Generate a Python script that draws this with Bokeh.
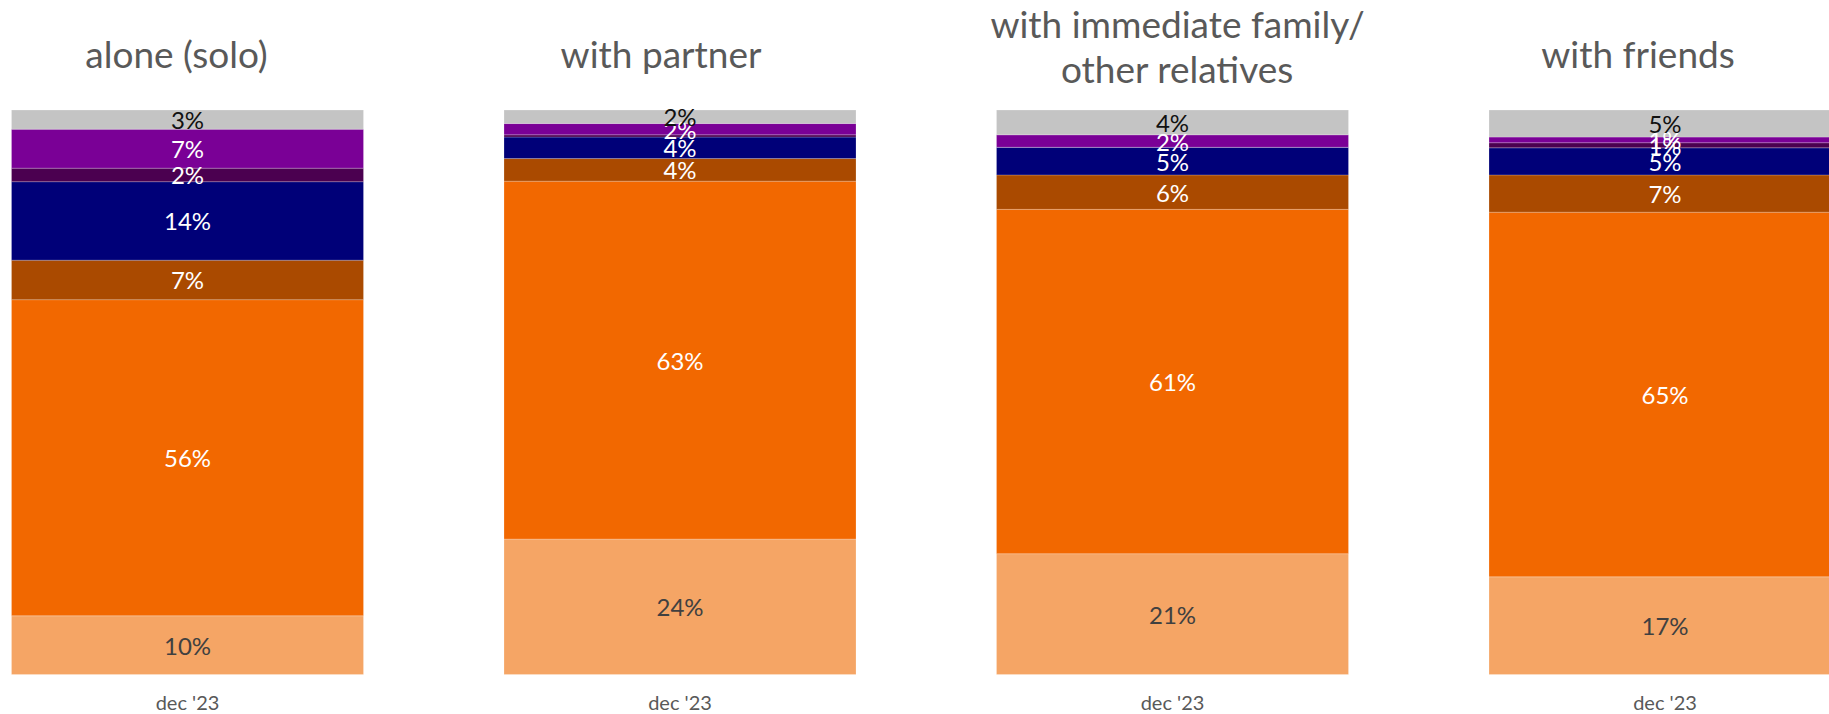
from bokeh.plotting import figure
from bokeh.models import ColumnDataSource, Range1d
from bokeh.core.properties import value
from bokeh.embed import file_html
from bokeh.resources import INLINE

# ---- data ----
panels = ["alone (solo)", "with partner", "with immediate family/\nother relatives", "with friends"]
period = ["dec '23", "dec '23", "dec '23", "dec '23"]
series = ["s1", "s2", "s3", "s4", "s5", "s6", "s7"]  # bottom -> top
s1 = [10.4, 24.0, 21.4, 17.3]
s2 = [56.0, 63.4, 61.0, 64.6]
s3 = [7.0, 4.0, 6.1, 6.6]
s4 = [13.9, 3.8, 4.9, 4.8]
s5 = [2.4, 0.4, 0.0, 0.9]
s6 = [6.9, 2.0, 2.2, 1.0]
s7 = [3.4, 2.4, 4.4, 4.8]

# ---- styles ----
colors = ["#F5A565", "#F26800", "#AA4A00", "#000078", "#4B0050", "#7A0096", "#C4C4C4"]
label_colors = ["#404040", "white", "white", "white", "white", "white", "#111111"]
FONT = "Lato"
W, H = 1829, 714
PITCH = 492.5          # px between bar centres
BAR_W_PX = 352
FIRST_CENTER = 187     # px from left of figure
TOP_PX, BOT_PX = 109.5, 674.0
PX_PER_UNIT = (BOT_PX - TOP_PX) / 100.0

x0 = -FIRST_CENTER / PITCH
x1 = x0 + W / PITCH
y_top = 100 + TOP_PX / PX_PER_UNIT
y_bot = -(H - BOT_PX) / PX_PER_UNIT


def py(px):
    return (BOT_PX - px) / PX_PER_UNIT


p = figure(width=W, height=H, output_backend="svg", toolbar_location=None,
           x_range=Range1d(x0, x1), y_range=Range1d(y_bot, y_top),
           min_border=0, min_border_left=0, min_border_right=0,
           min_border_top=0, min_border_bottom=0)
p.axis.visible = False
p.grid.visible = False
p.outline_line_color = None
p.background_fill_color = "white"
p.border_fill_color = "white"

xs = list(range(len(panels)))
data = dict(x=xs, s1=s1, s2=s2, s3=s3, s4=s4, s5=s5, s6=s6, s7=s7)
src = ColumnDataSource(data)
p.vbar_stack(series, x="x", width=BAR_W_PX / PITCH, color=colors, source=src,
             line_color="white", line_width=0.6, line_alpha=0.35)

# segment labels
all_vals = [s1, s2, s3, s4, s5, s6, s7]
lx, ly, lt, lc = [], [], [], []
for i in range(len(panels)):
    cum = 0.0
    for k, vals in enumerate(all_vals):
        v = vals[i]
        if round(v) >= 1:
            lx.append(i)
            ly.append(cum + v / 2)
            lt.append(f"{round(v)}%")
            lc.append(label_colors[k])
        cum += v
p.text(x=lx, y=ly, text=lt, text_color=lc, text_font=value(FONT),
       text_font_size="24px", text_align="center", text_baseline="middle")

# titles
title_dx = [-11, -19, 5, -27]
tx, ty, tt, toff = [], [], [], []
for i, t in enumerate(panels):
    lines = t.split("\n")
    if len(lines) == 1:
        ys = [53.0]
    else:
        ys = [22.5, 68.0]
    for ln, yy in zip(lines, ys):
        tx.append(i)
        ty.append(py(yy))
        tt.append(ln)
        toff.append(title_dx[i])
p.text(x=tx, y=ty, text=tt, x_offset=toff, text_color="#595959",
       text_font=value(FONT), text_font_size="37px", text_align="center",
       text_baseline="middle")

# period labels under bars
p.text(x=xs, y=[py(701)] * len(xs), text=period, text_color="#595959",
       text_font=value(FONT), text_font_size="20px", text_align="center",
       text_baseline="middle")

open("out.html", "w").write(file_html(p, INLINE))
